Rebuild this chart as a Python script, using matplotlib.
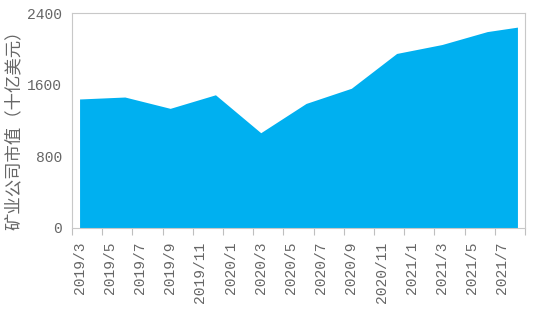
import matplotlib
matplotlib.use("Agg")
import matplotlib.pyplot as plt
import numpy as np

# Monthly category axis (2019/3 .. 2021/8)
months = [f"{y}/{m}" for y in (2019, 2020, 2021) for m in range(1, 13)]
months = months[months.index("2019/3"):months.index("2021/8") + 1]

# Observed data points (market value of mining companies, billion USD)
dates = ["2019/3", "2019/6", "2019/9", "2019/12", "2020/3", "2020/6",
         "2020/9", "2020/12", "2021/3", "2021/6", "2021/8"]
values = [1440, 1462, 1335, 1487, 1062, 1390, 1560, 1950, 2050, 2195, 2245]

y_ticks = [0, 800, 1600, 2400]
y_label = "矿业公司市值（十亿美元）"

fig = plt.figure(figsize=(5.41, 3.12), dpi=100)
ax = fig.add_axes([0.1331, 0.2708, 0.8373, 0.6866])

x = [months.index(d) for d in dates]
ax.fill_between(x, 0, values, color="#00B0F0", linewidth=0)

ax.set_xlim(-0.5, len(months) - 0.5)
ax.set_ylim(0, 2400)

# labels every 2 months at month centres, tick marks at month boundaries
label_idx = list(range(0, len(months), 2))
ax.set_xticks(label_idx)
ax.set_xticklabels([months[i] for i in label_idx], rotation=90,
                   family="Liberation Mono", fontsize=10.5, color="#666666")
ax.set_xticks(np.arange(-0.5, len(months), 2), minor=True)
ax.tick_params(axis="x", which="major", length=0, pad=10)
ax.tick_params(axis="x", which="minor", length=5, color="#BFBFBF", width=0.8)

ax.set_yticks(y_ticks)
ax.set_yticklabels([str(v) for v in y_ticks], family="Liberation Mono",
                   fontsize=10.5, color="#666666")
ax.tick_params(axis="y", length=0, pad=7)

for s in ax.spines.values():
    s.set_color("#C8C8C8")
    s.set_linewidth(0.8)

fig.text(0.026, 0.596, y_label, rotation=90, ha="center", va="center",
         fontsize=12.5, color="#666666",
         family=["Noto Sans CJK SC", "DejaVu Sans"])

fig.savefig("out.png", dpi=100)
